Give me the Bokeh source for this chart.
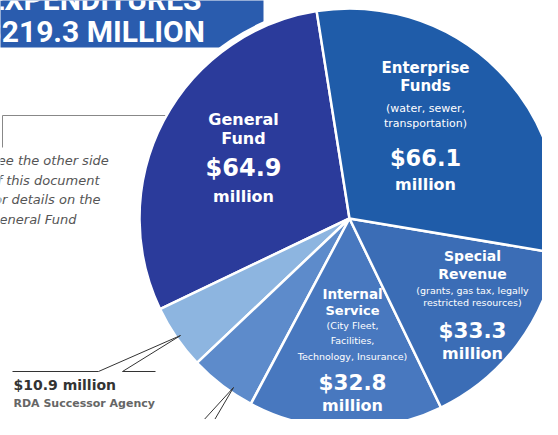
import numpy as np
from bokeh.plotting import figure
from bokeh.models import ColumnDataSource, Range1d
from bokeh.embed import file_html
from bokeh.resources import INLINE
from bokeh.core.properties import value

# ---------------- data (counter-clockwise from the top boundary) ----------------
funds = ["General Fund", "RDA Successor Agency", "Other Funds",
         "Internal Service", "Special Revenue", "Enterprise Funds"]
amounts = [64.9, 10.9, 11.3, 32.8, 33.3, 66.1]   # $ million
colors = ["#2b3b9b", "#8db5e0", "#5d8bcb", "#4878bf", "#3b6db6", "#1f5ca9"]
total = round(sum(amounts), 1)

# ---------------- layout (image pixel coordinates, y down) ----------------
H = 435
def Y(y):
    return H - y

CX, CY, R = 349, 218, 210
START_DEG = 99.0

frac = np.array(amounts) / sum(amounts)
cum = np.concatenate([[0], np.cumsum(frac)])
start = np.radians(START_DEG) + cum[:-1] * 2 * np.pi
end = np.radians(START_DEG) + cum[1:] * 2 * np.pi

p = figure(width=542, height=419, x_range=Range1d(0, 542), y_range=Range1d(Y(419), Y(0)),
           output_backend="svg", toolbar_location=None, min_border=0,
           x_axis_type=None, y_axis_type=None)
p.outline_line_color = None
p.background_fill_color = "white"
p.border_fill_color = "white"

# title box
p.quad(left=[-20], right=[263], bottom=[Y(47)], top=[Y(-10)], fill_color="#2a5cae", line_color=None)
p.text(x=[-13], y=[Y(-1)], text=["EXPENDITURES"], text_font=value("Roboto"), text_font_style="bold",
       text_font_size="30px", text_color="white", text_baseline="middle", text_align="left")
p.text(x=[-16], y=[Y(31)], text=[f"${total:.1f} MILLION"], text_font=value("Roboto"), text_font_style="bold",
       text_font_size="30px", text_color="white", text_baseline="middle", text_align="left")

# general fund note
p.line(x=[2, 2], y=[Y(115), Y(147)], line_color="#888888", line_width=1)
note = ["See the other side", "of this document", "for details on the", "General Fund"]
for i, t in enumerate(note):
    p.text(x=[-11], y=[Y(160 + 19.5 * i)], text=[t], text_font=value("DejaVu Sans"), text_font_style="italic",
           text_font_size="13px", text_color="#555555", text_baseline="middle", text_align="left")

# pie
p.circle(x=[CX], y=[Y(CY)], radius=R + 5, fill_color="white", line_color=None)
p.line(x=[2, 175], y=[Y(115), Y(115)], line_color="#888888", line_width=1)
src = ColumnDataSource(dict(fund=funds, amount=amounts, color=colors, start=start, end=end))
p.wedge(x=CX, y=Y(CY), radius=R, start_angle="start", end_angle="end", fill_color="color",
        line_color="white", line_width=2.5, source=src)

def money(v):
    return f"${v:.1f}"

# slice labels: center x, then (text, y, size px, bold)
labels = [
    (243, [("General", 118.5, 16, True), ("Fund", 137.5, 16, True),
           (money(amounts[0]), 167, 24, True), ("million", 196, 16, True)]),
    (425, [("Enterprise", 67, 15, True), ("Funds", 85, 15, True),
           ("(water, sewer,", 108, 11, False), ("transportation)", 123, 11, False),
           (money(amounts[5]), 157, 22.5, True), ("million", 184, 16, True)]),
    (472, [("Special", 255, 14, True), ("Revenue", 273, 14, True),
           ("(grants, gas tax, legally", 290, 9.5, False), ("restricted resources)", 302, 9.5, False),
           (money(amounts[4]), 330, 21.5, True), ("million", 353, 16, True)]),
    (352, [("Internal", 293, 13.5, True), ("Service", 310, 13, True),
           ("(City Fleet,", 325, 9.5, False), ("Facilities,", 340, 9.5, False),
           ("Technology, Insurance)", 356, 9.5, False),
           (money(amounts[3]), 382, 21.5, True), ("million", 405, 16, True)]),
]
for cx, lines in labels:
    for t, y, s, b in lines:
        p.text(x=[cx], y=[Y(y)], text=[t], text_font=value("DejaVu Sans"),
               text_font_style="bold" if b else "normal", text_font_size=f"{s}px",
               text_color="white", text_baseline="middle", text_align="center")

# leader lines for the small slices
lc = "#333333"
p.line(x=[12, 98, 180], y=[Y(371), Y(371), Y(335)], line_color=lc, line_width=1)
p.line(x=[155, 122, 180], y=[Y(371), Y(371), Y(335)], line_color=lc, line_width=1)
p.line(x=[233, 180], y=[Y(387), Y(445)], line_color=lc, line_width=1)
p.line(x=[233, 199], y=[Y(387), Y(445)], line_color=lc, line_width=1)

p.text(x=[13], y=[Y(384)], text=[f"${amounts[1]:.1f} million"], text_font=value("DejaVu Sans"),
       text_font_style="bold", text_font_size="14px", text_color="#333333",
       text_baseline="middle", text_align="left")
p.text(x=[13], y=[Y(403)], text=[funds[1]], text_font=value("DejaVu Sans"),
       text_font_style="bold", text_font_size="11px", text_color="#666666",
       text_baseline="middle", text_align="left")

open("out.html", "w").write(file_html(p, INLINE))
